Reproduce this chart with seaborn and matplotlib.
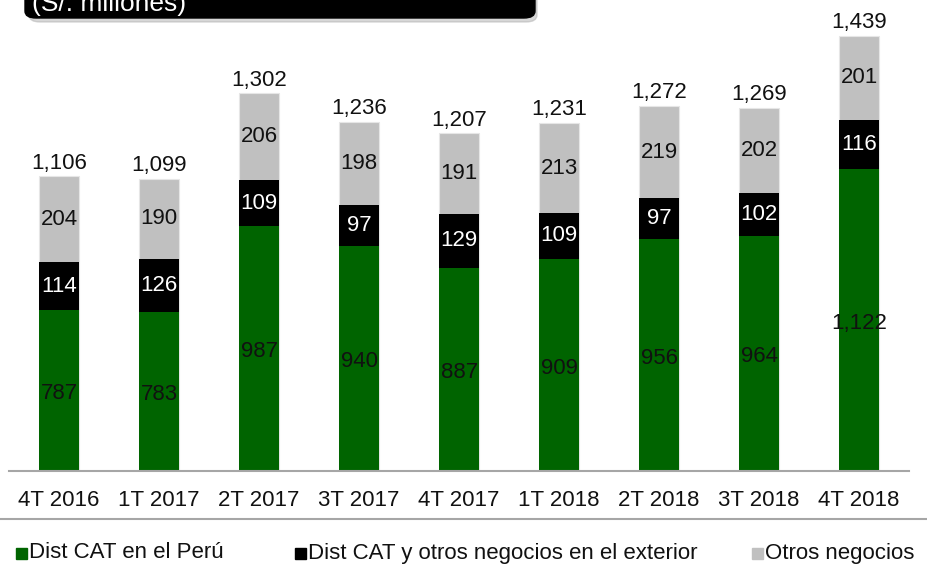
import pandas as pd
import seaborn as sns
import matplotlib.pyplot as plt
from matplotlib.patches import FancyBboxPatch, Rectangle

# values (S/. millones)
periods = ['4T 2016', '1T 2017', '2T 2017', '3T 2017', '4T 2017',
           '1T 2018', '2T 2018', '3T 2018', '4T 2018']
peru = [787, 783, 987, 940, 887, 909, 956, 964, 1122]
exterior = [114, 126, 109, 97, 129, 109, 97, 102, 116]
otros = [204, 190, 206, 198, 191, 213, 219, 202, 201]
totals = [1106, 1099, 1302, 1236, 1207, 1231, 1272, 1269, 1439]

series_names = ['Dist CAT en el Perú', 'Dist CAT y otros negocios en el exterior', 'Otros negocios']
colors = ['#006400', '#000000', '#C0C0C0']

df = pd.DataFrame({'period': periods, 'peru': peru, 'exterior': exterior, 'otros': otros})
df['cum_ext'] = df['peru'] + df['exterior']
df['cum_otros'] = df['cum_ext'] + df['otros']

sns.set_theme(style='white')
plt.rcParams['font.family'] = ['Liberation Sans', 'DejaVu Sans']

fig = plt.figure(figsize=(9.28, 5.76), dpi=100)
ax = fig.add_axes([0.0097, 0.1823, 0.97, 0.8177])

ymin = 405
fs = 16
# stacked bars: draw the cumulative tops first, then the lower layers over them
sns.barplot(data=df, x='period', y='cum_otros', color=colors[2], width=0.4,
            saturation=1, edgecolor='#E6E6E6', linewidth=0.8, ax=ax)
sns.barplot(data=df, x='period', y='cum_ext', color=colors[1], width=0.4,
            saturation=1, linewidth=0, ax=ax)
sns.barplot(data=df, x='period', y='peru', color=colors[0], width=0.4,
            saturation=1, linewidth=0, ax=ax)

ax.set_ylim(ymin, ymin + 471 / 0.421)
ax.set_xlim(-0.5, 8.5)

for i, row in df.iterrows():
    ax.text(i, (ymin + row['peru']) / 2 - 8, f"{row['peru']:,}", ha='center', va='center',
            fontsize=fs, color='#111111')
    ax.text(i, row['peru'] + row['exterior'] / 2, f"{row['exterior']:,}", ha='center',
            va='center', fontsize=fs, color='white')
    ax.text(i, row['cum_ext'] + row['otros'] / 2, f"{row['otros']:,}", ha='center',
            va='center', fontsize=fs, color='#111111')
    ax.annotate(f"{totals[i]:,}", (i, row['cum_otros']), xytext=(0, 2),
                textcoords='offset points', ha='center', va='bottom', fontsize=fs,
                color='#111111')

ax.set_xlabel('')
ax.set_ylabel('')
ax.set_yticks([])
ax.tick_params(axis='x', length=0, pad=14, labelsize=fs, labelcolor='#111111')
for side in ['top', 'left', 'right']:
    ax.spines[side].set_visible(False)
ax.spines['bottom'].set_color('#A6A6A6')
ax.spines['bottom'].set_linewidth(1.5)

# separator line above the legend
fig.add_artist(plt.Line2D([0, 1], [1 - 519 / 576] * 2, color='#A6A6A6', lw=1.5,
                          transform=fig.transFigure))

# legend (custom squares + labels)
leg_y = 1 - 553 / 576
for name, col, xs in zip(series_names, colors, [16, 295, 752]):
    fig.add_artist(Rectangle((xs / 928, leg_y - 6 / 576), 11 / 928, 11 / 576,
                             color=col, transform=fig.transFigure))
    fig.text((xs + 13) / 928, leg_y, name, ha='left', va='center', fontsize=fs,
             color='#111111')

# title box, partly cut off at the top
shadow = FancyBboxPatch((29 / 928, 1 - 22 / 576), 508 / 928, 40 / 576,
                        boxstyle='round,pad=0,rounding_size=0.012',
                        transform=fig.transFigure, color='#B0B0B0', alpha=0.5)
box = FancyBboxPatch((25 / 928, 1 - 18 / 576), 510 / 928, 40 / 576,
                     boxstyle='round,pad=0,rounding_size=0.012',
                     transform=fig.transFigure, color='black')
fig.add_artist(shadow)
fig.add_artist(box)
fig.text(32 / 928, 1 - 4 / 576, '(S/. millones)', ha='left', va='center',
         fontsize=19, color='white')

fig.savefig('out.png', dpi=100)
